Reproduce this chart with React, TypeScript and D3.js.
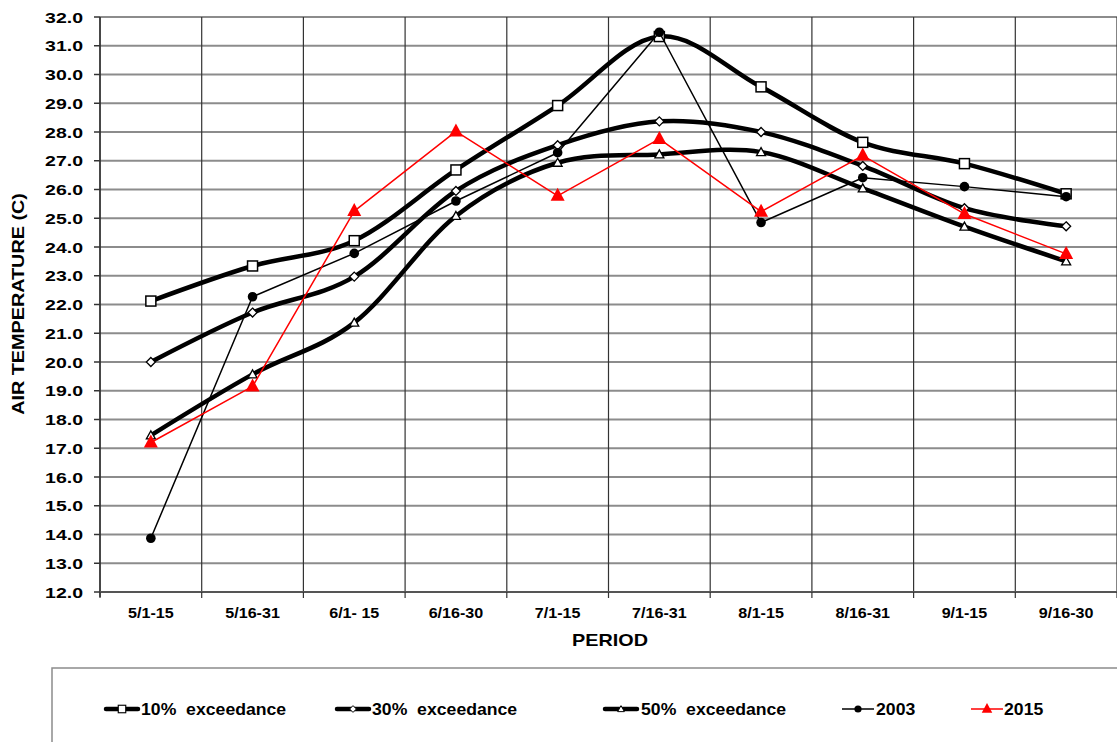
import React from "react";
import * as d3 from "d3";

const periods = ["5/1-15", "5/16-31", "6/1- 15", "6/16-30", "7/1-15", "7/16-31", "8/1-15", "8/16-31", "9/1-15", "9/16-30"];
const exc10 = [22.12, 23.34, 24.22, 26.68, 28.92, 31.32, 29.57, 27.64, 26.9, 25.85];
const exc30 = [20.0, 21.72, 22.97, 25.95, 27.54, 28.37, 28.0, 26.82, 25.35, 24.72];
const exc50 = [17.45, 19.57, 21.37, 25.08, 26.93, 27.22, 27.3, 26.04, 24.71, 23.5];
const y2003 = [13.87, 22.27, 23.78, 25.6, 27.28, 31.47, 24.85, 26.41, 26.1, 25.75];
const y2015 = [17.2, 19.15, 25.25, 28.02, 25.78, 27.76, 25.23, 27.18, 25.15, 23.76];
const yTicks = [12, 13, 14, 15, 16, 17, 18, 19, 20, 21, 22, 23, 24, 25, 26, 27, 28, 29, 30, 31, 32];
const legendNames = ["10% exceedance", "30% exceedance", "50% exceedance", "2003", "2015"];

type Series = { name: string; values: number[]; kind: string; smooth: boolean; color: string; width: number };
const series: Series[] = [
  { name: legendNames[0], values: exc10, kind: "square", smooth: true, color: "#000", width: 4.5 },
  { name: legendNames[1], values: exc30, kind: "diamond", smooth: true, color: "#000", width: 4.5 },
  { name: legendNames[2], values: exc50, kind: "triangle", smooth: true, color: "#000", width: 4.5 },
  { name: legendNames[3], values: y2003, kind: "circle", smooth: false, color: "#000", width: 1.5 },
  { name: legendNames[4], values: y2015, kind: "redtri", smooth: false, color: "#ff0000", width: 1.5 },
];

const L = 100, R = 1117, T = 17, B = 592;
const FONT = "'Liberation Sans', Arial, sans-serif";

function Marker({ kind, x, y, k = 1 }: { kind: string; x: number; y: number; k?: number }) {
  const s = (n: number) => n * k;
  if (kind === "square") return <rect x={x - s(5)} y={y - s(5)} width={s(10)} height={s(10)} fill="#fff" stroke="#000" strokeWidth={1.5 * k} />;
  if (kind === "diamond") return <path d={`M${x},${y - s(4.5)}L${x + s(4.5)},${y}L${x},${y + s(4.5)}L${x - s(4.5)},${y}Z`} fill="#fff" stroke="#000" strokeWidth={1.3 * k} />;
  if (kind === "triangle") return <path d={`M${x},${y - s(4.5)}L${x + s(4.5)},${y + s(3.5)}L${x - s(4.5)},${y + s(3.5)}Z`} fill="#fff" stroke="#000" strokeWidth={1.3 * k} />;
  if (kind === "circle") return <circle cx={x} cy={y} r={s(4.8)} fill="#000" />;
  return <path d={`M${x},${y - s(8)}L${x + s(7)},${y + s(5)}L${x - s(7)},${y + s(5)}Z`} fill="#ff0000" />;
}

export default function App() {
  const x = d3.scaleBand<string>().domain(periods).range([L, R]);
  const y = d3.scaleLinear().domain([12, 32]).range([B, T]);
  const cx = (i: number) => (x(periods[i]) as number) + x.bandwidth() / 2;
  const smoothLine = d3.line<number>().x((_, i) => cx(i)).y((v) => y(v)).curve(d3.curveCardinal.tension(0));
  const straightLine = d3.line<number>().x((_, i) => cx(i)).y((v) => y(v));
  const boundaries = periods.map((p) => x(p) as number).concat([R]);

  const legendItems = [
    { sx: 106, tx: 141 },
    { sx: 337, tx: 372 },
    { sx: 605, tx: 641 },
    { sx: 842, tx: 876 },
    { sx: 971, tx: 1004 },
  ];
  const legendY = 709;

  return (
    <svg width={1117} height={742} style={{ position: "absolute", left: 0, top: 0, background: "#fff" }} fontFamily={FONT}>
      <rect x={0} y={0} width={1117} height={742} fill="#fff" />
      {yTicks.map((t) => (
        <line key={"h" + t} x1={L} x2={R} y1={y(t)} y2={y(t)} stroke="#8c8c8c" strokeWidth={2} />
      ))}
      {boundaries.map((b, i) => (
        <line key={"v" + i} x1={b} x2={b} y1={T} y2={B} stroke="#333" strokeWidth={1.2} />
      ))}
      <line x1={L} x2={L} y1={T} y2={B + 5} stroke="#333" strokeWidth={1.5} />
      <line x1={L} x2={R} y1={B} y2={B} stroke="#555" strokeWidth={2} />
      {yTicks.map((t) => (
        <g key={"yt" + t}>
          <line x1={L - 6} x2={L} y1={y(t)} y2={y(t)} stroke="#333" strokeWidth={1.5} />
          <text transform={`translate(83,${y(t) + 5.5}) scale(1.3,1)`} textAnchor="end" fontSize={15} fontWeight="bold">
            {t.toFixed(1)}
          </text>
        </g>
      ))}
      {boundaries.map((b, i) => (
        <line key={"xt" + i} x1={b} x2={b} y1={B} y2={B + 6} stroke="#333" strokeWidth={1.2} />
      ))}
      {periods.map((p, i) => (
        <text key={"xl" + i} transform={`translate(${cx(i)},618) scale(1.15,1)`} textAnchor="middle" fontSize={14} fontWeight="bold">
          {p}
        </text>
      ))}
      <text transform={`translate(610,646) scale(1.2,1)`} textAnchor="middle" fontSize={16.5} fontWeight="bold">PERIOD</text>
      <text transform={`translate(24,304) rotate(-90) scale(1.2,1)`} textAnchor="middle" fontSize={16.5} fontWeight="bold">AIR TEMPERATURE (C)</text>

      {series.map((s, si) => (
        <g key={"s" + si}>
          <path d={(s.smooth ? smoothLine : straightLine)(s.values) || ""} fill="none" stroke={s.color} strokeWidth={s.width} strokeLinejoin="round" />
          {s.values.map((v, i) => (
            <Marker key={i} kind={s.kind} x={cx(i)} y={y(v)} />
          ))}
        </g>
      ))}

      <rect x={52} y={668} width={1100} height={100} fill="#fff" stroke="#8c8c8c" strokeWidth={1.5} />
      {series.map((s, si) => {
        const it = legendItems[si];
        return (
          <g key={"lg" + si}>
            <line x1={it.sx} x2={it.sx + 32} y1={legendY} y2={legendY} stroke={s.color} strokeWidth={s.width} strokeLinecap={s.smooth ? "round" : "butt"} />
            <Marker kind={s.kind} x={it.sx + 16} y={legendY} k={0.75} />
            <text transform={`translate(${it.tx},${legendY + 6}) scale(1.07,1)`} fontSize={16.5} fontWeight="bold" style={{ whiteSpace: "pre" }}>
              {s.name.replace(" ", "  ")}
            </text>
          </g>
        );
      })}
    </svg>
  );
}
